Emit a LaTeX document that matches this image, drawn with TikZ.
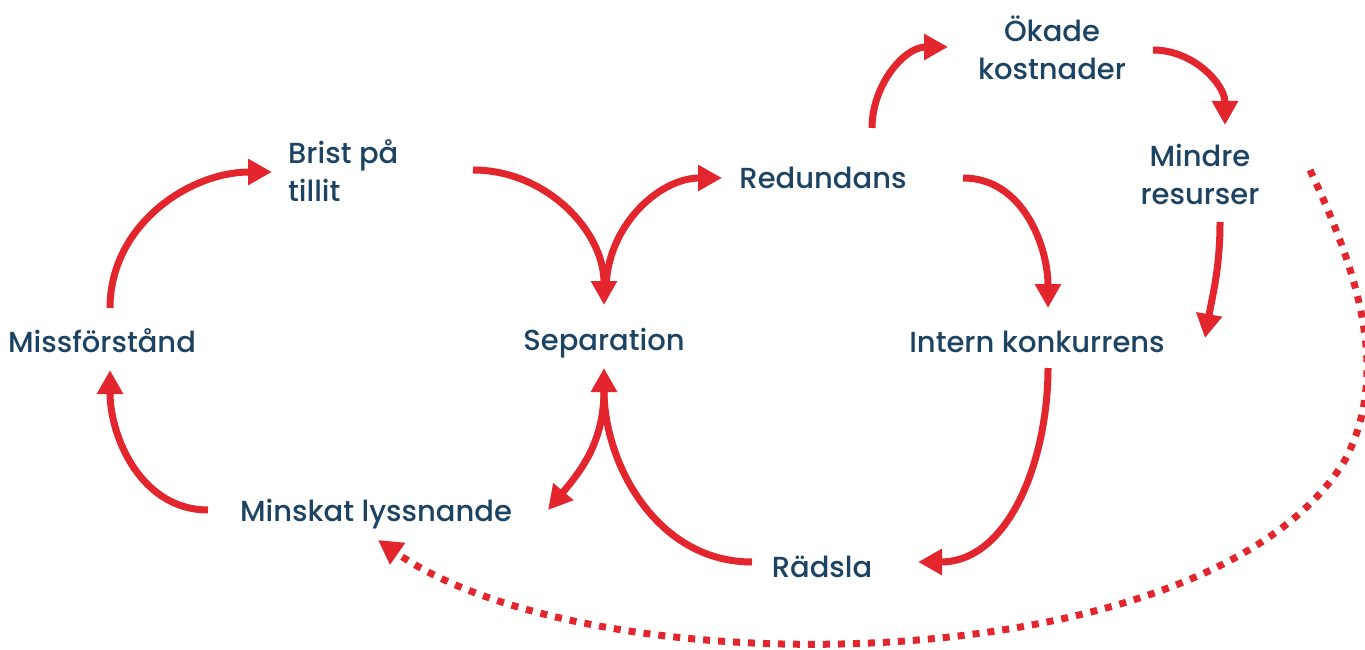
\documentclass[tikz,border=0pt]{standalone}
\usepackage{fontspec}
\setmainfont{Poppins}[UprightFont=* Medium]
\usetikzlibrary{arrows.meta}
\definecolor{loopred}{HTML}{E3262E}
\definecolor{labelblue}{HTML}{1D4363}
\tikzset{
  label/.style={text=labelblue, inner sep=0pt, font=\fontsize{29}{38}\selectfont},
  flow/.style={draw=loopred, line width=7pt, -{Triangle[length=24pt,width=25pt]}},
  slowflow/.style={flow, dash pattern=on 7pt off 8pt}
}
\begin{document}
\begin{tikzpicture}[x=1pt,y=1pt]
  \useasboundingbox (0,0) rectangle (1365,649);
  % labels
  \node[label, anchor=base] (missf) at (102,297) {Missförstånd};
  \node[label, anchor=base west, align=left] (brist) at (288,447) {Brist på\\tillit};
  \node[label, anchor=base] (sep) at (604,299) {Separation};
  \node[label, anchor=base] (redund) at (823,460) {Redundans};
  \node[label, anchor=base, align=center] (okade) at (1052,569) {Ökade\\kostnader};
  \node[label, anchor=base, align=center] (mindre) at (1200,444) {Mindre\\resurser};
  \node[label, anchor=base] (intern) at (1037,297) {Intern konkurrens};
  \node[label, anchor=base] (minskat) at (376,128) {Minskat lyssnande};
  \node[label, anchor=base] (radsla) at (822,72) {Rädsla};

  % left loop
  \draw[flow] ([xshift=8pt,yshift=44pt]missf.base) to[out=90,in=180] ([xshift=-16pt,yshift=30pt]brist.base west);
  \draw[flow] ([xshift=185pt,yshift=32pt]brist.base west) to[out=0,in=90] ([yshift=45pt]sep.base);
  \draw[flow] ([xshift=-168pt,yshift=11pt]minskat.base) to[out=180,in=-90] ([xshift=8pt,yshift=-18pt]missf.base);
  \draw[flow] ([yshift=-40pt]sep.base) to[out=-90,in=50] ([xshift=172pt,yshift=11pt]minskat.base);

  % right loop
  \draw[flow] ([xshift=2pt,yshift=60pt]sep.base) to[out=90,in=180] ([xshift=-101pt,yshift=11pt]redund.base);
  \draw[flow] ([xshift=140pt,yshift=11pt]redund.base) to[out=0,in=90] ([xshift=11pt,yshift=44pt]intern.base);
  \draw[flow] ([xshift=11pt,yshift=-16pt]intern.base) to[out=-90,in=0] ([xshift=96pt,yshift=15pt]radsla.base);
  \draw[flow] ([xshift=-70pt,yshift=15pt]radsla.base) to[out=180,in=-90] ([yshift=-18pt]sep.base);

  % costs
  \draw[flow] ([xshift=49pt,yshift=61pt]redund.base) to[out=90,in=180] ([xshift=-104pt,yshift=33pt]okade.base);
  \draw[flow] ([xshift=101pt,yshift=30pt]okade.base) to[out=0,in=90] ([xshift=25pt,yshift=80pt]mindre.base);
  \draw[flow] ([xshift=20pt,yshift=-17pt]mindre.base) to[out=-90,in=80] ([xshift=168pt,yshift=14pt]intern.base);
  \draw[slowflow] ([xshift=110pt,yshift=35pt]mindre.base) to[out=-65,in=62,looseness=0.9] ++(35,-290)
    to[out=-121,in=-35,looseness=0.69] ([xshift=2pt,yshift=-19pt]minskat.base);
\end{tikzpicture}
\end{document}
